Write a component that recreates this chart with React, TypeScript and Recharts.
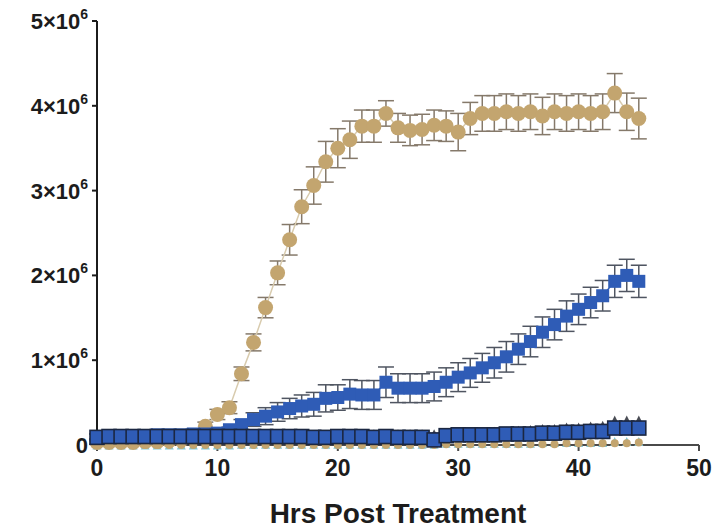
// Cell growth time course, Prism-style scatter with error bars

import { LineChart, Line, XAxis, YAxis, ErrorBar } from 'recharts';

// =============================================================================
// Data (values in units of 10^6)
// =============================================================================

const hours = [
  0, 1, 2, 3, 4, 5, 6, 7, 8, 9, 10, 11, 12, 13, 14, 15, 16, 17, 18, 19, 20, 21, 22,
  23, 24, 25, 26, 27, 28, 29, 30, 31, 32, 33, 34, 35, 36, 37, 38, 39, 40, 41, 42, 43, 44, 45,
];

// tan circles (large rise)
const tanMean = [
  0.03, 0.03, 0.03, 0.03, 0.04, 0.04, 0.05, 0.06, 0.09, 0.22, 0.36, 0.44, 0.84, 1.21, 1.62, 2.03,
  2.42, 2.81, 3.06, 3.34, 3.50, 3.60, 3.76, 3.76, 3.91, 3.74, 3.71, 3.72, 3.77, 3.76, 3.69, 3.85,
  3.91, 3.91, 3.93, 3.91, 3.93, 3.88, 3.93, 3.91, 3.93, 3.91, 3.93, 4.15, 3.93, 3.85,
];
const tanErr = [
  0.02, 0.02, 0.02, 0.02, 0.02, 0.02, 0.02, 0.02, 0.02, 0.05, 0.06, 0.07, 0.08, 0.10, 0.12, 0.14,
  0.18, 0.20, 0.22, 0.24, 0.23, 0.22, 0.19, 0.19, 0.15, 0.17, 0.18, 0.18, 0.18, 0.18, 0.22, 0.19,
  0.21, 0.21, 0.21, 0.21, 0.21, 0.22, 0.21, 0.21, 0.21, 0.21, 0.21, 0.23, 0.22, 0.24,
];

// blue squares (slow rise)
const blueMean = [
  0.10, 0.11, 0.11, 0.11, 0.11, 0.12, 0.12, 0.12, 0.13, 0.13, 0.14, 0.18, 0.24, 0.30, 0.34, 0.39,
  0.43, 0.46, 0.48, 0.55, 0.56, 0.60, 0.59, 0.59, 0.74, 0.67, 0.67, 0.67, 0.69, 0.74, 0.80, 0.85,
  0.91, 0.97, 1.04, 1.13, 1.22, 1.33, 1.42, 1.52, 1.60, 1.68, 1.76, 1.93, 2.00, 1.93,
];
const blueErr = [
  0.03, 0.03, 0.03, 0.03, 0.03, 0.03, 0.03, 0.03, 0.03, 0.03, 0.03, 0.03, 0.06, 0.08, 0.10, 0.11,
  0.12, 0.13, 0.14, 0.16, 0.15, 0.17, 0.17, 0.17, 0.18, 0.17, 0.17, 0.17, 0.17, 0.17, 0.17, 0.17,
  0.17, 0.18, 0.18, 0.18, 0.18, 0.18, 0.18, 0.18, 0.18, 0.18, 0.18, 0.19, 0.19, 0.19,
];

// outlined blue squares (flat, bottom)
const baseMean = [
  0.09, 0.10, 0.10, 0.10, 0.10, 0.10, 0.10, 0.10, 0.10, 0.10, 0.10, 0.10, 0.10, 0.10, 0.10, 0.10,
  0.10, 0.10, 0.09, 0.09, 0.10, 0.10, 0.10, 0.09, 0.10, 0.09, 0.09, 0.09, 0.06, 0.11, 0.12, 0.12,
  0.12, 0.12, 0.13, 0.13, 0.13, 0.14, 0.14, 0.15, 0.15, 0.16, 0.16, 0.20, 0.20, 0.20,
];

// dark triangles (mostly hidden behind the outlined squares)
const greyMean = [
  0.10, 0.10, 0.10, 0.10, 0.10, 0.10, 0.10, 0.10, 0.10, 0.10, 0.10, 0.10, 0.10, 0.10, 0.10, 0.10,
  0.10, 0.10, 0.10, 0.10, 0.11, 0.11, 0.11, 0.11, 0.11, 0.11, 0.11, 0.11, 0.11, 0.12, 0.12, 0.13,
  0.13, 0.14, 0.14, 0.15, 0.16, 0.17, 0.17, 0.19, 0.19, 0.20, 0.21, 0.27, 0.27, 0.27,
];

// small tan circles near zero
const tanLowMean = [
  0.0, 0.0, 0.0, 0.0, 0.0, 0.0, 0.0, 0.0, 0.0, 0.0, 0.0, 0.0, 0.0, 0.0, 0.0, 0.0,
  0.0, 0.0, 0.0, 0.0, 0.0, 0.0, 0.0, 0.0, 0.0, 0.0, 0.0, 0.0, 0.0, 0.01, 0.01, 0.01,
  0.01, 0.01, 0.01, 0.01, 0.01, 0.01, 0.01, 0.02, 0.02, 0.02, 0.02, 0.02, 0.02, 0.03,
];

// cyan triangles near zero
const cyanMean = [
  0.0, 0.0, 0.0, 0.0, 0.0, 0.0, 0.0, 0.0, 0.0, 0.0, 0.0, 0.0, 0.01, 0.01, 0.01, 0.01,
  0.01, 0.01, 0.01, 0.01, 0.01, 0.01, 0.01, 0.01, 0.01, 0.01, 0.01, 0.01, 0.01, 0.02, 0.02, 0.02,
  0.02, 0.02, 0.02, 0.02, 0.02, 0.03, 0.03, 0.03, 0.03, 0.03, 0.03, 0.04, 0.04, 0.04,
];

const xTicks = [0, 10, 20, 30, 40, 50];
const yTicks = [0, 1, 2, 3, 4, 5];
const SCALE = 1000000;

// =============================================================================
// Constants
// =============================================================================

const COLORS = {
  tan: '#c3a56f',
  tanLine: '#d8cbae',
  tanErr: '#85796a',
  blue: '#2f5cb6',
  blueErr: '#4f5561',
  baseStroke: '#1b2742',
  grey: '#4a4d55',
  cyan: '#7cc6d8',
};

const FONT = '"Liberation Sans", Arial, Helvetica, sans-serif';

const data = hours.map((h, i) => ({
  hr: h,
  tan: tanMean[i] * SCALE,
  tanErr: tanErr[i] * SCALE,
  blue: blueMean[i] * SCALE,
  blueErr: blueErr[i] * SCALE,
  base: baseMean[i] * SCALE,
  grey: greyMean[i] * SCALE,
  tanLow: tanLowMean[i] * SCALE,
  cyan: cyanMean[i] * SCALE,
}));

// =============================================================================
// Marker shapes
// =============================================================================

function square(size: number, fill: string, stroke?: string) {
  return (props: any) => {
    const { cx, cy, index } = props;
    if (cx == null || cy == null) return <g key={index} />;
    return (
      <rect
        key={index}
        x={cx - size / 2}
        y={cy - size / 2}
        width={size}
        height={size}
        fill={fill}
        stroke={stroke ?? 'none'}
        strokeWidth={stroke ? 1.6 : 0}
      />
    );
  };
}

function circle(r: number, fill: string) {
  return (props: any) => {
    const { cx, cy, index } = props;
    if (cx == null || cy == null) return <g key={index} />;
    return <circle key={index} cx={cx} cy={cy} r={r} fill={fill} />;
  };
}

function triangle(size: number, fill: string) {
  return (props: any) => {
    const { cx, cy, index } = props;
    if (cx == null || cy == null) return <g key={index} />;
    const h = size / 2;
    return (
      <polygon
        key={index}
        points={`${cx},${cy - h} ${cx - h},${cy + h} ${cx + h},${cy + h}`}
        fill={fill}
      />
    );
  };
}

// =============================================================================
// Y tick: "4×10⁶"
// =============================================================================

function YTick(props: any) {
  const { x, y, payload } = props;
  const v = payload.value / SCALE;
  return (
    <text
      x={x}
      y={y}
      dy={8}
      textAnchor="end"
      fontFamily={FONT}
      fontWeight="bold"
      fontSize={22}
      fill="#1c1c1c"
    >
      {v === 0 ? (
        '0'
      ) : (
        <>
          <tspan>{`${v}×10`}</tspan>
          <tspan fontSize={14} dy={-10}>6</tspan>
        </>
      )}
    </text>
  );
}

// =============================================================================
// Component
// =============================================================================

export default function App() {
  return (
    <div style={{ position: 'absolute', left: 0, top: 0, width: 726, height: 529, background: '#fff' }}>
      <LineChart
        width={726}
        height={529}
        data={data}
        margin={{ top: 21, right: 27, bottom: 0, left: 0 }}
      >
        <XAxis
          dataKey="hr"
          type="number"
          domain={[0, 50]}
          ticks={xTicks}
          height={84}
          stroke="#4a4a4a"
          strokeWidth={2}
          tickSize={6}
          tickMargin={9}
          tick={{ fontFamily: FONT, fontWeight: 'bold', fontSize: 23, fill: '#1c1c1c' }}
          label={{
            value: 'Hrs Post Treatment',
            position: 'insideBottom',
            offset: 6,
            style: { fontFamily: FONT, fontWeight: 'bold', fontSize: 28, fill: '#1c1c1c' },
          }}
        />
        <YAxis
          type="number"
          domain={[0, 5 * SCALE]}
          ticks={yTicks.map((t) => t * SCALE)}
          width={97}
          stroke="#1c1c1c"
          strokeWidth={2}
          tickSize={5}
          tickMargin={4}
          tick={<YTick />}
        />

        <Line
          dataKey="cyan"
          stroke="none"
          dot={triangle(9, COLORS.cyan)}
          isAnimationActive={false}
        />
        <Line
          dataKey="tanLow"
          stroke="none"
          dot={circle(4, COLORS.tan)}
          isAnimationActive={false}
        />
        <Line
          dataKey="grey"
          stroke="none"
          dot={triangle(13, COLORS.grey)}
          isAnimationActive={false}
        />
        <Line
          dataKey="tan"
          stroke={COLORS.tanLine}
          strokeWidth={1.5}
          dot={circle(7.5, COLORS.tan)}
          isAnimationActive={false}
        >
          <ErrorBar dataKey="tanErr" direction="y" width={8} stroke={COLORS.tanErr} strokeWidth={1.5} />
        </Line>
        <Line
          dataKey="blue"
          stroke={COLORS.blue}
          strokeWidth={1.5}
          dot={square(13, COLORS.blue)}
          isAnimationActive={false}
        >
          <ErrorBar dataKey="blueErr" direction="y" width={8} stroke={COLORS.blueErr} strokeWidth={1.5} />
        </Line>
        <Line
          dataKey="base"
          stroke="none"
          dot={square(14, COLORS.blue, COLORS.baseStroke)}
          isAnimationActive={false}
        />
      </LineChart>
    </div>
  );
}
